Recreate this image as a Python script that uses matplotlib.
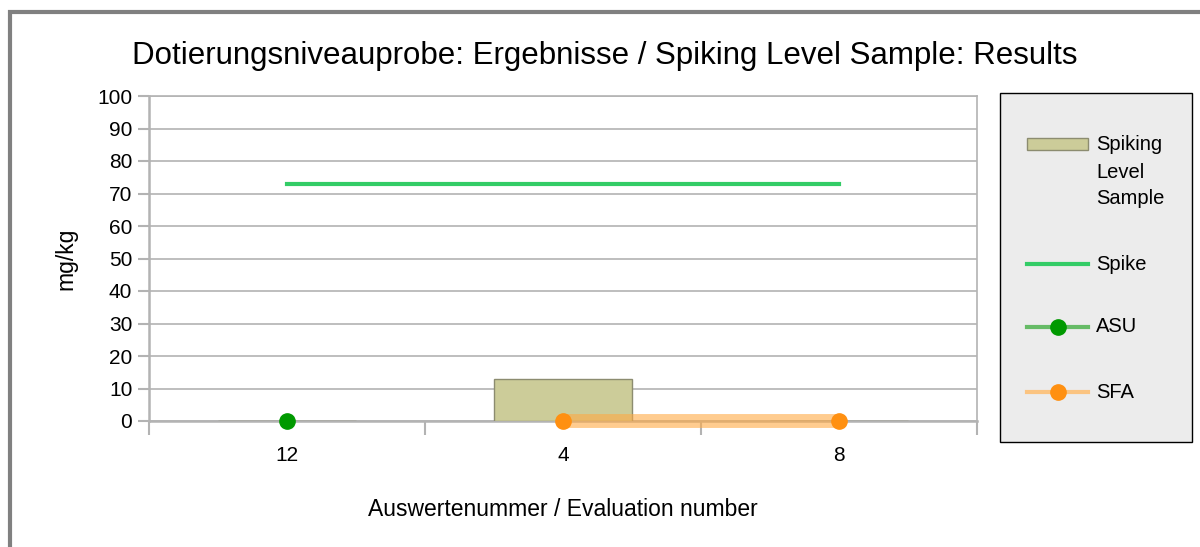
import numpy as np
import matplotlib.pyplot as plt
from matplotlib.patches import Rectangle
from matplotlib.lines import Line2D

plt.rcParams['font.family'] = ['Liberation Sans', 'DejaVu Sans']

# data
categories = ['12', '4', '8']
spiking_level = [0, 13, 0]      # bar per category
spike_value = 72.8
asu_cats = ['12']
asu_vals = [0]
sfa_cats = ['4', '8']
sfa_vals = [0, 0]

W, H = 1200, 547
grey = '#b3b3b3'
bar_fc, bar_ec = '#cccc99', '#8c8c70'
spike_c = '#33cc66'
asu_line, asu_mk = '#66bb66', '#009900'
sfa_line, sfa_mk = '#ffaa44', '#ff9011'


def px(xp, yp):
    return xp / W, 1 - yp / H


fig = plt.figure(figsize=(12, 5.47), dpi=100)
ax = fig.add_axes([149 / W, 1 - 421 / H, (977 - 149) / W, (421 - 96) / H])

xpos = {c: i for i, c in enumerate(categories)}
x = np.arange(len(categories))

ax.bar(x, spiking_level, width=0.5, color=bar_fc, edgecolor=bar_ec, linewidth=1, zorder=3)
ax.plot([x[0], x[-1]], [spike_value, spike_value], color=spike_c, lw=3, zorder=4)
ax.plot([xpos[c] for c in asu_cats], asu_vals, color=asu_line, lw=3, marker='o',
        ms=11, mfc=asu_mk, mec=asu_mk, zorder=5, clip_on=False)
ax.plot([xpos[c] for c in sfa_cats], sfa_vals, color=sfa_line, alpha=0.6, lw=10,
        solid_capstyle='butt', zorder=5, clip_on=False)
ax.plot([xpos[c] for c in sfa_cats], sfa_vals, ls='none', marker='o', ms=11,
        mfc=sfa_mk, mec=sfa_mk, zorder=6, clip_on=False)

ax.set_xlim(-0.5, len(categories) - 0.5)
ax.set_ylim(0, 100)
ax.set_yticks(np.arange(0, 101, 10))
ax.set_xticks(x)
ax.set_xticklabels(categories)
ax.set_xticks(np.arange(-0.5, len(categories)), minor=True)
ax.tick_params(axis='x', which='major', length=0, pad=18, labelsize=15)
ax.tick_params(axis='x', which='minor', length=10, color=grey, width=1.5)
ax.tick_params(axis='y', length=8, color=grey, width=1.5, labelsize=15, pad=4)
ax.yaxis.grid(True, color=grey, lw=1.2, zorder=0)
ax.set_axisbelow(True)
for s in ax.spines.values():
    s.set_color(grey)
    s.set_linewidth(1.2)
ax.spines['left'].set_linewidth(1.8)
ax.spines['bottom'].set_linewidth(1.8)

ax.set_ylabel('mg/kg', fontsize=16.5, labelpad=14)
ax.set_xlabel('Auswertenummer / Evaluation number', fontsize=16.5, labelpad=24)
fig.text(*px(605, 56), 'Dotierungsniveauprobe: Ergebnisse / Spiking Level Sample: Results',
         ha='center', va='center', fontsize=22.5)

# legend box
x0, y0 = px(1000, 442)
x1, y1 = px(1192, 93)
fig.patches.append(Rectangle((x0, y0), x1 - x0, y1 - y0, transform=fig.transFigure,
                             facecolor='#ececec', edgecolor='black', lw=1))
hx0, hx1, tx = 1027, 1088, 1096
# Spiking Level Sample
rx, ry = px(hx0, 150)
rx2, ry2 = px(hx1, 138)
fig.patches.append(Rectangle((rx, ry), rx2 - rx, ry2 - ry, transform=fig.transFigure,
                             facecolor=bar_fc, edgecolor=bar_ec, lw=1))
for yy, t in zip([145, 172, 199], ['Spiking', 'Level', 'Sample']):
    fig.text(*px(tx, yy), t, va='center', ha='left', fontsize=14.5)
# Spike
fig.add_artist(Line2D([hx0 / W, hx1 / W], [1 - 264 / H] * 2, color=spike_c, lw=3))
fig.text(*px(tx, 264), 'Spike', va='center', ha='left', fontsize=14.5)
# ASU
fig.add_artist(Line2D([hx0 / W, hx1 / W], [1 - 327 / H] * 2, color=asu_line, lw=3))
fig.add_artist(Line2D([(hx0 + hx1) / 2 / W], [1 - 327 / H], ls='none', marker='o', ms=11,
                      mfc=asu_mk, mec=asu_mk))
fig.text(*px(tx, 327), 'ASU', va='center', ha='left', fontsize=14.5)
# SFA
fig.add_artist(Line2D([hx0 / W, hx1 / W], [1 - 392 / H] * 2, color='#ffbb66', alpha=0.8, lw=3))
fig.add_artist(Line2D([(hx0 + hx1) / 2 / W], [1 - 392 / H], ls='none', marker='o', ms=11,
                      mfc=sfa_mk, mec=sfa_mk))
fig.text(*px(tx, 392), 'SFA', va='center', ha='left', fontsize=14.5)

# outer frame
fig.patches.append(Rectangle((10 / W, -0.05), 1.1, 1 - 12 / H + 0.05,
                             transform=fig.transFigure, fill=False,
                             edgecolor='#808080', lw=3))

fig.savefig('out.png', dpi=100)
